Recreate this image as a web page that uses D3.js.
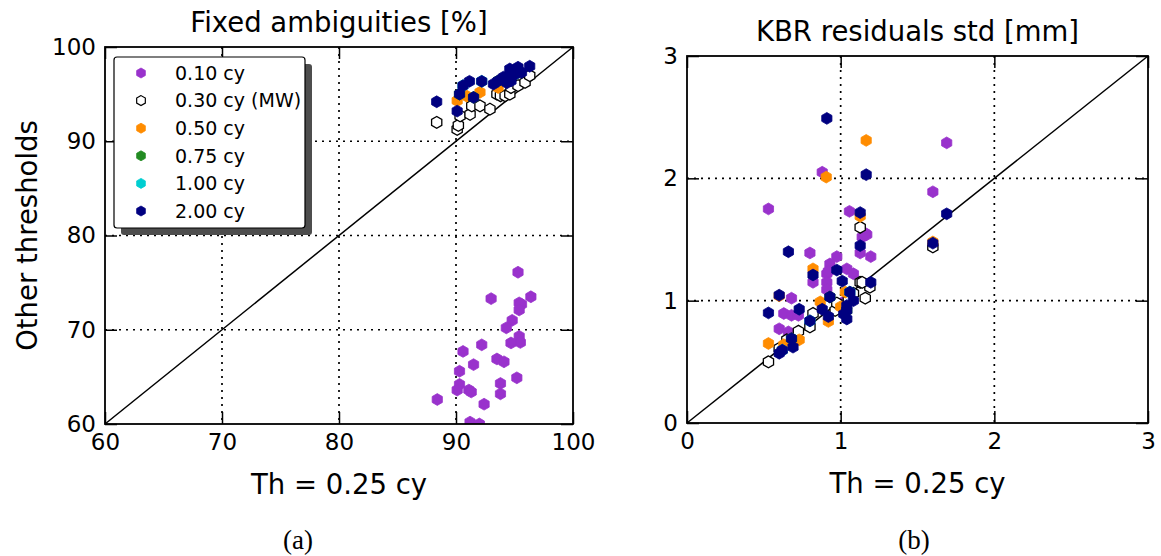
<!DOCTYPE html>
<html>
<head>
<meta charset="utf-8">
<script src="https://cdn.jsdelivr.net/npm/d3@7/dist/d3.min.js"></script>
<style>
  html, body { margin: 0; padding: 0; background: #fff; }
  svg { display: block; }
  text { font-family: "DejaVu Sans", sans-serif; fill: #000; }
</style>
</head>
<body>
<svg id="chart" width="1161" height="556"></svg>
<script>
// ---------------- DATA ----------------
const seriesLabels = ["0.10 cy", "0.30 cy (MW)", "0.50 cy", "0.75 cy", "1.00 cy", "2.00 cy"];
const seriesColors = ["#9932CC", "#FFFFFF", "#FF8C00", "#228B22", "#00CED1", "#000080"];

const leftTicksX = [60, 70, 80, 90, 100];
const leftTicksY = [60, 70, 80, 90, 100];
const rightTicksX = [0, 1, 2, 3];
const rightTicksY = [0, 1, 2, 3];

// Panel (a): Fixed ambiguities [%]
const fixA_010 = [[95.3,76.1],[93.0,73.3],[96.4,73.5],[95.4,72.85],[95.6,72.7],[95.4,72.1],[94.8,71.0],[94.3,70.2],
  [95.4,69.3],[95.5,68.65],[94.7,68.6],[92.2,68.4],[90.6,67.7],[91.5,66.3],[93.5,66.9],[94.1,66.6],[90.3,65.6],
  [95.2,64.9],[93.8,64.3],[90.3,64.2],[90.1,63.6],[91.1,63.6],[91.3,63.4],[93.8,63.2],[88.4,62.6],[92.4,62.1],
  [91.2,60.2],[92.0,60.0]];
const fixA_030 = [[88.35,92.0],[90.1,91.26],[90.2,91.69],[90.35,92.69],[91.2,92.86],[91.35,93.76],[92.05,93.76],
  [92.9,93.4],[93.5,95.0],[93.8,94.83],[94.2,94.83],[94.6,95.0],[94.7,95.7],[95.3,95.9],[95.9,96.25],[96.3,96.97]];
const fixA_050 = [[90.1,94.3],[92.05,95.2],[93.6,95.7],[90.9,94.8],[94.4,96.3]];
const fixA_075 = [[90.3,95.0],[91.5,94.65],[93.6,96.4]];
const fixA_100 = [[90.6,95.9],[92.2,96.36],[95.1,97.14]];
const fixA_200 = [[88.35,94.19],[91.15,96.36],[92.2,96.36],[90.3,95.0],[90.6,95.9],[91.5,94.65],[90.1,93.2],
  [93.2,96.07],[93.6,96.4],[94.05,96.8],[94.6,97.67],[95.3,97.85],[94.6,96.97],[95.1,97.14],[95.6,97.3],
  [96.3,97.96],[94.35,96.2],[94.7,96.4]];

// Panel (b): KBR residuals std [mm]
const kbrB_010 = [[0.53,1.75],[0.88,2.05],[1.69,2.29],[1.60,1.89],[1.057,1.73],[1.14,1.52],[1.17,1.54],[1.127,1.39],
  [1.196,1.36],[0.80,1.39],[0.975,1.36],[0.93,1.30],[0.91,1.22],[0.91,1.15],[0.82,1.15],[1.04,1.26],[1.083,1.22],
  [0.92,1.24],[0.91,1.09],[0.63,0.895],[0.68,0.88],[0.725,0.88],[0.68,1.02],[0.60,0.77],[0.66,0.745],[1.16,1.55],
  [1.02,0.99]];
const kbrB_030 = [[0.53,0.50],[0.60,0.61],[0.65,0.68],[0.725,0.75],[0.80,0.786],[0.82,0.895],[0.964,0.92],
  [0.975,0.98],[1.083,1.06],[1.16,1.02],[1.127,1.15],[1.19,1.11],[1.127,1.60],[1.60,1.44],[1.14,1.15],[1.05,1.0]];
const kbrB_050 = [[1.166,2.31],[0.906,2.01],[1.127,1.69],[0.82,1.26],[0.867,0.99],[0.92,0.83],[0.53,0.65],
  [0.73,0.68],[0.63,0.64],[0.60,1.04],[1.60,1.48],[1.0,0.95],[1.03,1.07]];
const kbrB_075 = [[0.93,1.03],[1.04,0.92],[0.68,0.69]];
const kbrB_100 = [[1.06,1.07],[0.80,0.835],[0.62,0.595]];
const kbrB_200 = [[0.91,2.49],[1.166,2.03],[1.69,1.71],[1.127,1.72],[1.127,1.45],[0.66,1.40],[0.82,1.21],
  [0.975,1.25],[1.60,1.47],[1.196,1.15],[1.01,1.16],[1.06,1.07],[0.93,1.03],[1.083,1.00],[1.04,0.96],[1.04,0.92],
  [1.02,0.89],[1.04,0.85],[0.88,0.93],[0.92,0.87],[0.80,0.835],[0.73,0.93],[0.53,0.90],[0.60,1.045],[0.68,0.69],
  [0.69,0.62],[0.62,0.595],[0.60,0.57]];

// ---------------- DRAWING ----------------
const svg = d3.select("#chart");
const hexPath = (r) => {
  const pts = d3.range(6).map(i => {
    const a = Math.PI / 2 + i * Math.PI / 3;
    return [r * Math.cos(a), -r * Math.sin(a)];
  });
  return "M" + pts.map(p => p.join(",")).join("L") + "Z";
};
const HEX = hexPath(5.9);

function panel(cfg) {
  const x = d3.scaleLinear().domain(cfg.xDomain).range([cfg.left, cfg.right]);
  const y = d3.scaleLinear().domain(cfg.yDomain).range([cfg.bottom, cfg.top]);
  const g = svg.append("g");

  // grid (dotted)
  const inner = (t, d) => t.filter(v => v !== d[0] && v !== d[1]);
  g.selectAll(".gx").data(inner(cfg.xTicks, cfg.xDomain)).enter().append("line")
    .attr("x1", d => x(d)).attr("x2", d => x(d)).attr("y1", cfg.top).attr("y2", cfg.bottom)
    .attr("stroke", "#000").attr("stroke-width", 1.7).attr("stroke-dasharray", "2,5");
  g.selectAll(".gy").data(inner(cfg.yTicks, cfg.yDomain)).enter().append("line")
    .attr("y1", d => y(d)).attr("y2", d => y(d)).attr("x1", cfg.left).attr("x2", cfg.right)
    .attr("stroke", "#000").attr("stroke-width", 1.7).attr("stroke-dasharray", "2,5");

  // diagonal y = x
  const lo = Math.max(cfg.xDomain[0], cfg.yDomain[0]), hi = Math.min(cfg.xDomain[1], cfg.yDomain[1]);
  g.append("line").attr("x1", x(lo)).attr("y1", y(lo)).attr("x2", x(hi)).attr("y2", y(hi))
    .attr("stroke", "#000").attr("stroke-width", 1.5);

  // points
  const clipId = "clip" + cfg.id;
  svg.append("clipPath").attr("id", clipId).append("rect")
    .attr("x", cfg.left).attr("y", cfg.top).attr("width", cfg.right - cfg.left).attr("height", cfg.bottom - cfg.top);
  const pg = g.append("g").attr("clip-path", `url(#${clipId})`);
  cfg.series.forEach((s, i) => {
    pg.selectAll(null).data(s).enter().append("path")
      .attr("d", HEX)
      .attr("transform", d => `translate(${x(d[0])},${y(d[1])})`)
      .attr("fill", seriesColors[i])
      .attr("stroke", i === 1 ? "#000" : seriesColors[i])
      .attr("stroke-width", i === 1 ? 1.3 : 0.8);
  });

  // axes with inward ticks
  const T = 12;
  const fs = "23px";
  const ax = g.append("g").attr("transform", `translate(0,${cfg.bottom})`)
    .call(d3.axisBottom(x).tickValues(cfg.xTicks).tickSize(-T).tickSizeOuter(0).tickPadding(10).tickFormat(d3.format("d")));
  const axT = g.append("g").attr("transform", `translate(0,${cfg.top})`)
    .call(d3.axisTop(x).tickValues(cfg.xTicks).tickSize(-T).tickSizeOuter(0).tickFormat(""));
  const ay = g.append("g").attr("transform", `translate(${cfg.left},0)`)
    .call(d3.axisLeft(y).tickValues(cfg.yTicks).tickSize(-T).tickSizeOuter(0).tickPadding(9).tickFormat(d3.format("d")));
  const ayR = g.append("g").attr("transform", `translate(${cfg.right},0)`)
    .call(d3.axisRight(y).tickValues(cfg.yTicks).tickSize(-T).tickSizeOuter(0).tickFormat(""));
  [ax, axT, ay, ayR].forEach(a => {
    a.select(".domain").remove();
    a.selectAll("line").attr("stroke", "#000").attr("stroke-width", 1.5);
    a.selectAll("text").attr("font-family", "DejaVu Sans").attr("font-size", fs).attr("fill", "#000");
  });
  ax.selectAll("text").attr("dy", "0.71em");

  // frame
  g.append("rect").attr("x", cfg.left).attr("y", cfg.top)
    .attr("width", cfg.right - cfg.left).attr("height", cfg.bottom - cfg.top)
    .attr("fill", "none").attr("stroke", "#000").attr("stroke-width", 1.8);

  // title and label
  const cx = (cfg.left + cfg.right) / 2;
  g.append("text").attr("x", cx).attr("y", cfg.top - 15).attr("text-anchor", "middle")
    .attr("font-size", "27.5px").text(cfg.title);
  g.append("text").attr("x", cx).attr("y", cfg.bottom + 70).attr("text-anchor", "middle")
    .attr("font-size", "27.5px").text(cfg.xLabel);
  if (cfg.yLabel) {
    g.append("text").attr("transform", `translate(${cfg.left - 68},${(cfg.top + cfg.bottom) / 2}) rotate(-90)`)
      .attr("text-anchor", "middle").attr("font-size", "27.5px").text(cfg.yLabel);
  }
  g.append("text").attr("x", cfg.capX).attr("y", 549).attr("text-anchor", "middle")
    .style("font-family", "'Liberation Serif', 'DejaVu Serif', serif")
    .attr("font-size", "27px").text(cfg.caption);
  return { g, x, y };
}

panel({
  id: "a", xDomain: [60, 100], yDomain: [60, 100], left: 105, right: 573, top: 47, bottom: 424,
  xTicks: leftTicksX, yTicks: leftTicksY, title: "Fixed ambiguities [%]", xLabel: "Th = 0.25 cy",
  yLabel: "Other thresholds", caption: "(a)", capX: 298,
  series: [fixA_010, fixA_030, fixA_050, fixA_075, fixA_100, fixA_200]
});
panel({
  id: "b", xDomain: [0, 3], yDomain: [0, 3], left: 687, right: 1148, top: 56, bottom: 423,
  xTicks: rightTicksX, yTicks: rightTicksY, title: "KBR residuals std [mm]", xLabel: "Th = 0.25 cy",
  caption: "(b)", capX: 914,
  series: [kbrB_010, kbrB_030, kbrB_050, kbrB_075, kbrB_100, kbrB_200]
});

// legend on panel (a)
const lg = svg.append("g");
const LX = 114, LY = 57, LW = 191, LH = 171;
lg.append("rect").attr("x", LX + 7).attr("y", LY + 7).attr("width", LW).attr("height", LH)
  .attr("rx", 3).attr("fill", "#4d4d4d");
lg.append("rect").attr("x", LX).attr("y", LY).attr("width", LW).attr("height", LH)
  .attr("rx", 3).attr("fill", "#fff").attr("stroke", "#000").attr("stroke-width", 1.2);
seriesLabels.forEach((lab, i) => {
  const cy = LY + 16 + i * 27.6;
  lg.append("path").attr("d", hexPath(5)).attr("transform", `translate(${LX + 27},${cy})`)
    .attr("fill", seriesColors[i]).attr("stroke", i === 1 ? "#000" : seriesColors[i])
    .attr("stroke-width", i === 1 ? 1.2 : 0.8);
  lg.append("text").attr("x", LX + 61).attr("y", cy).attr("dy", "0.36em")
    .attr("font-size", "19px").text(lab);
});
</script>
</body>
</html>
